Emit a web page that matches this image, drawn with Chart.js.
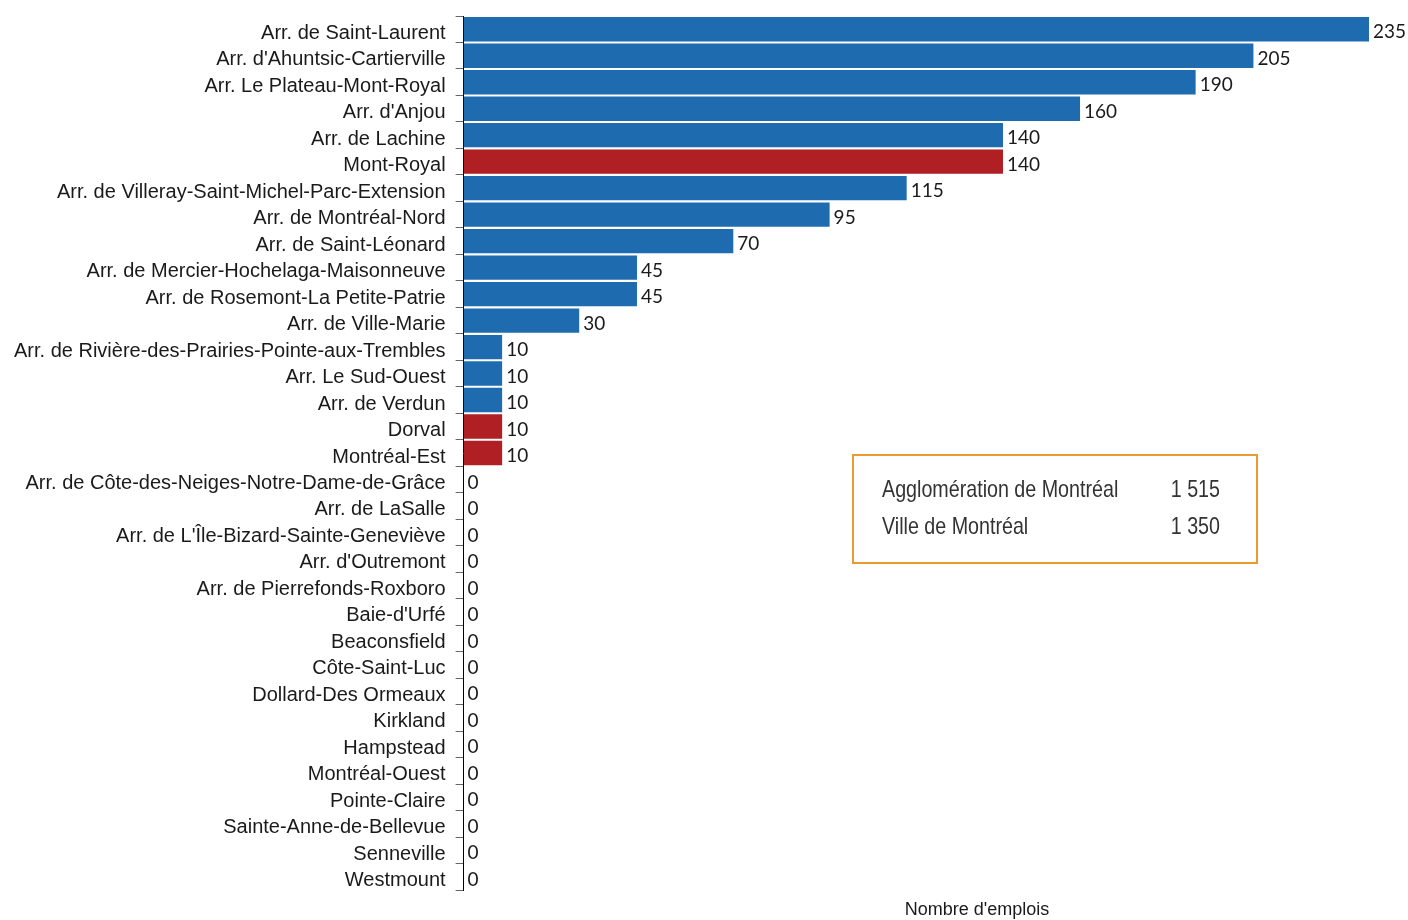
<!DOCTYPE html>
<html>
<head>
<meta charset="utf-8">
<script src="https://cdn.jsdelivr.net/npm/chart.js@4"></script>
<style>
  html, body { margin: 0; padding: 0; background: #fff; }
  #wrap { width: 1408px; height: 920px; position: relative; }
</style>
</head>
<body>
<div id="wrap"><canvas id="emploisChart"></canvas></div>
<script>
const categories = [
  "Arr. de Saint-Laurent", "Arr. d'Ahuntsic-Cartierville", "Arr. Le Plateau-Mont-Royal",
  "Arr. d'Anjou", "Arr. de Lachine", "Mont-Royal",
  "Arr. de Villeray-Saint-Michel-Parc-Extension", "Arr. de Montréal-Nord", "Arr. de Saint-Léonard",
  "Arr. de Mercier-Hochelaga-Maisonneuve", "Arr. de Rosemont-La Petite-Patrie", "Arr. de Ville-Marie",
  "Arr. de Rivière-des-Prairies-Pointe-aux-Trembles", "Arr. Le Sud-Ouest", "Arr. de Verdun",
  "Dorval", "Montréal-Est", "Arr. de Côte-des-Neiges-Notre-Dame-de-Grâce",
  "Arr. de LaSalle", "Arr. de L'Île-Bizard-Sainte-Geneviève", "Arr. d'Outremont",
  "Arr. de Pierrefonds-Roxboro", "Baie-d'Urfé", "Beaconsfield", "Côte-Saint-Luc",
  "Dollard-Des Ormeaux", "Kirkland", "Hampstead", "Montréal-Ouest", "Pointe-Claire",
  "Sainte-Anne-de-Bellevue", "Senneville", "Westmount"
];
const emplois = [235, 205, 190, 160, 140, 140, 115, 95, 70, 45, 45, 30, 10, 10, 10, 10, 10,
  0, 0, 0, 0, 0, 0, 0, 0, 0, 0, 0, 0, 0, 0, 0, 0];
// villes liées (hors Ville de Montréal) en rouge
const villesLiees = ["Mont-Royal", "Dorval", "Montréal-Est"];
const totalLabels = ["Agglomération de Montréal", "Ville de Montréal"];
const totalValues = ["1 515", "1 350"];
const axisTitle = "Nombre d'emplois";

const barColors = categories.map(c => villesLiees.includes(c) ? "#B01F24" : "#1F6BB0");

const valueLabels = {
  id: "valueLabels",
  afterDatasetsDraw(chart) {
    const ctx = chart.ctx;
    const meta = chart.getDatasetMeta(0);
    ctx.save();
    ctx.font = "19px Lato";
    ctx.fillStyle = "#1a1a1a";
    ctx.textBaseline = "middle";
    meta.data.forEach((bar, i) => {
      ctx.fillText(String(emplois[i]), bar.x + 4, bar.y + 3);
    });
    ctx.restore();
  }
};

const extras = {
  id: "extras",
  afterDraw(chart) {
    const ctx = chart.ctx;
    const area = chart.chartArea;
    ctx.save();
    // titre de l'axe
    ctx.font = "18px 'Liberation Sans', Arial";
    ctx.fillStyle = "#1a1a1a";
    ctx.textAlign = "center";
    ctx.textBaseline = "middle";
    ctx.fillText(axisTitle, area.left + (area.right - area.left) * 0.567, 910);
    // encadré des totaux
    ctx.strokeStyle = "#E89B2E";
    ctx.lineWidth = 2;
    ctx.strokeRect(853, 455, 404, 108);
    ctx.fillStyle = "#333";
    ctx.font = "24px 'Liberation Sans', Arial";
    totalLabels.forEach((t, i) => {
      const y = 490 + i * 37;
      ctx.save();
      ctx.translate(882, y);
      ctx.scale(0.82, 1);
      ctx.textAlign = "left";
      ctx.fillText(t, 0, 0);
      ctx.restore();
      ctx.save();
      ctx.translate(1220, y);
      ctx.scale(0.82, 1);
      ctx.textAlign = "right";
      ctx.fillText(totalValues[i], 0, 0);
      ctx.restore();
    });
    ctx.restore();
  }
};

new Chart(document.getElementById("emploisChart"), {
  type: "bar",
  data: {
    labels: categories,
    datasets: [{
      data: emplois,
      backgroundColor: barColors,
      barPercentage: 0.92,
      categoryPercentage: 1
    }]
  },
  options: {
    indexAxis: "y",
    responsive: true,
    maintainAspectRatio: false,
    animation: false,
    layout: { padding: { top: 16, right: 39, bottom: 30, left: 4 } },
    scales: {
      x: {
        display: false,
        min: 0,
        max: 235
      },
      y: {
        grid: {
          offset: true,
          drawOnChartArea: false,
          tickLength: 8,
          color: "#666"
        },
        border: { color: "#000", width: 1 },
        ticks: {
          font: { size: 20, family: "'Liberation Sans', Arial", lineHeight: 0.5 },
          color: "#1a1a1a",
          padding: 10,
          labelOffset: 4,
          autoSkip: false
        }
      }
    },
    plugins: {
      legend: { display: false },
      tooltip: { enabled: false }
    }
  },
  plugins: [valueLabels, extras]
});
</script>
</body>
</html>
